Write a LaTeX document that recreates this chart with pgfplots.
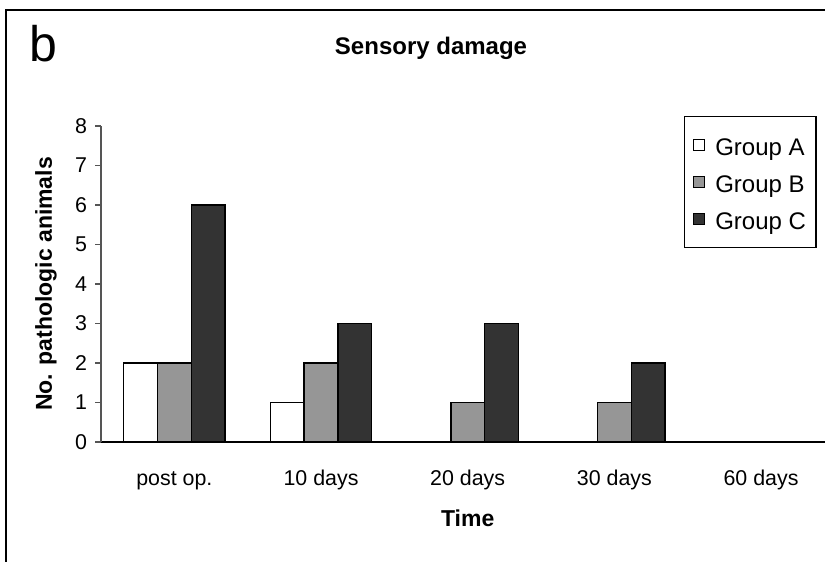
\documentclass[border=0pt]{standalone}
\usepackage{pgfplots}
\pgfplotsset{compat=1.18}
\usepackage{fontspec}
\setmainfont{Liberation Sans}
\definecolor{gB}{HTML}{969696}
\definecolor{gC}{HTML}{333333}
\definecolor{axgray}{HTML}{555555}
\begin{document}
\begin{tikzpicture}
\useasboundingbox (0,0) rectangle (412.5pt,281pt);
\draw[line width=0.8pt] (3pt,0pt) -- (3pt,276pt) -- (413pt,276pt);
\node[anchor=base west, inner sep=0pt, font=\fontsize{25}{30}\selectfont] at (14.5pt,250pt) {b};
\begin{axis}[
  at={(50.5pt,60pt)}, anchor=south west,
  scale only axis, width=366.7pt, height=158pt,
  xmin=-0.5, xmax=4.5, ymin=0, ymax=8,
  axis lines=left,
  x axis line style={-, black, line width=0.7pt},
  y axis line style={-, axgray, line width=0.7pt},
  ytick={0,...,8},
  y tick style={axgray, line width=0.7pt},
  ytick align=outside, major tick length=3pt,
  xtick={0,...,4},
  xticklabels={post op., 10 days, 20 days, 30 days, 60 days},
  x tick style={draw=none},
  extra x ticks={0.5,1.5,2.5,3.5,4.5},
  extra x tick labels={},
  extra x tick style={tick style={black, line width=0.7pt, draw=black}, major tick length=3pt, xtick align=outside},
  /pgf/number format/assume math mode=true,
  tick label style={font=\fontsize{10.7}{12}\selectfont},
  xticklabel style={yshift=-7pt, text height=8pt, text depth=2.5pt},
  yticklabel style={xshift=-0.5pt},
  ylabel={No. pathologic animals},
  ylabel style={font=\bfseries\fontsize{11.5}{13}\selectfont, at={(axis description cs:-0.075,0.5)}, anchor=center, rotate=0},
  xlabel={Time},
  xlabel style={font=\bfseries\fontsize{11.5}{13}\selectfont, at={(axis description cs:0.5,-0.2405)}, anchor=center},
  title={Sensory damage},
  title style={font=\bfseries\fontsize{12}{14}\selectfont, at={(axis description cs:0.45,1.209)}, anchor=center},
  ybar=0pt, bar width=0.23,
  legend style={at={(axis description cs:0.795,1.0316)}, anchor=north west,
    draw=black, line width=0.6pt, inner xsep=4pt, inner ysep=6.5pt,
    font=\fontsize{12}{14}\selectfont, row sep=3pt,
    nodes={inner sep=1pt, text height=12pt, text depth=1.5pt}},
  legend cell align=left,
  legend image code/.code={\draw[#1, line width=0.6pt] (0pt,-2.75pt) rectangle (5.5pt,2.75pt); \path[draw=none, fill=none] (5.5pt,0pt) -- (10pt,0pt);},
]
\addplot[draw=black, line width=0.7pt, fill=white, bar shift=-0.23] coordinates {(0,2) (1,1)};
\addplot[draw=black, line width=0.7pt, fill=gB, bar shift=0] coordinates {(0,2) (1,2) (2,1) (3,1)};
\addplot[draw=black, line width=0.7pt, fill=gC, bar shift=0.23] coordinates {(0,6) (1,3) (2,3) (3,2)};
\legend{Group A, Group B, Group C}
\end{axis}
\end{tikzpicture}
\end{document}
